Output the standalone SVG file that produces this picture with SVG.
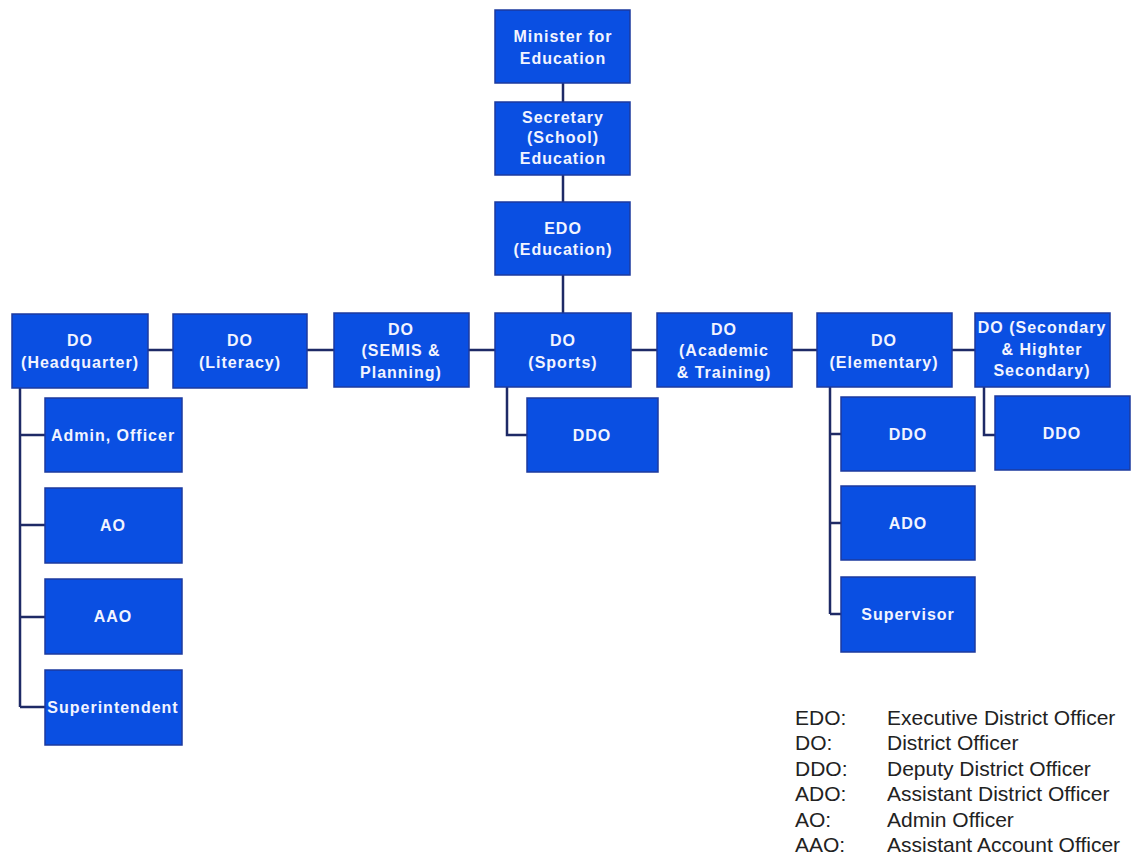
<svg xmlns="http://www.w3.org/2000/svg" width="1145" height="858" viewBox="0 0 1145 858">
<style>
.box{fill:#0a4fe2;stroke:#1c3a9e;stroke-width:1.5}
.t{font-family:"Liberation Sans",Arial,sans-serif;font-weight:bold;font-size:16px;fill:#f2f4ff;text-anchor:middle;letter-spacing:1px}
.c{fill:none;stroke:#1e2a66;stroke-width:2.5}
.lg{font-family:"Liberation Sans",Arial,sans-serif;font-size:21px;fill:#222}
</style>
<rect width="1145" height="858" fill="#ffffff"/>
<g id="connectors">
<path class="c" d="M563 83V102M563 175V202M563 275V313"/>
<path class="c" d="M148 350H173M307 350H334M469 350H495M631 350H657M792 350H817M952 350H975"/>
<path class="c" d="M20 388V707M20 435H45M20 525H45M20 617H45M20 707H45"/>
<path class="c" d="M507 387V435H527"/>
<path class="c" d="M830 387V614M830 434H841M830 523H841M830 614H841"/>
<path class="c" d="M984 387V435H995"/>
</g>
<g id="minister"><rect class="box" x="495" y="10" width="135" height="73"/><text class="t" x="563" y="42">Minister for</text><text class="t" x="563" y="64">Education</text></g>
<g id="secretary"><rect class="box" x="495" y="102" width="135" height="73"/><text class="t" x="563" y="123">Secretary</text><text class="t" x="563" y="143">(School)</text><text class="t" x="563" y="164">Education</text></g>
<g id="edo"><rect class="box" x="495" y="202" width="135" height="73"/><text class="t" x="563" y="234">EDO</text><text class="t" x="563" y="255">(Education)</text></g>
<g id="do-hq"><rect class="box" x="12" y="314" width="136" height="74"/><text class="t" x="80" y="346">DO</text><text class="t" x="80" y="368">(Headquarter)</text></g>
<g id="do-literacy"><rect class="box" x="173" y="314" width="134" height="74"/><text class="t" x="240" y="346">DO</text><text class="t" x="240" y="368">(Literacy)</text></g>
<g id="do-semis"><rect class="box" x="334" y="313" width="135" height="74"/><text class="t" x="401" y="335">DO</text><text class="t" x="401" y="356">(SEMIS &amp;</text><text class="t" x="401" y="378">Planning)</text></g>
<g id="do-sports"><rect class="box" x="495" y="313" width="136" height="74"/><text class="t" x="563" y="346">DO</text><text class="t" x="563" y="368">(Sports)</text></g>
<g id="do-academic"><rect class="box" x="657" y="313" width="135" height="74"/><text class="t" x="724" y="335">DO</text><text class="t" x="724" y="356">(Academic</text><text class="t" x="724" y="378">&amp; Training)</text></g>
<g id="do-elementary"><rect class="box" x="817" y="313" width="135" height="74"/><text class="t" x="884" y="346">DO</text><text class="t" x="884" y="368">(Elementary)</text></g>
<g id="do-secondary"><rect class="box" x="975" y="313" width="135" height="74"/><text class="t" x="1042" y="333">DO (Secondary</text><text class="t" x="1042" y="355">&amp; Highter</text><text class="t" x="1042" y="376">Secondary)</text></g>
<g id="admin-officer"><rect class="box" x="45" y="398" width="137" height="74"/><text class="t" x="113" y="441">Admin, Officer</text></g>
<g id="ao"><rect class="box" x="45" y="488" width="137" height="75"/><text class="t" x="113" y="531">AO</text></g>
<g id="aao"><rect class="box" x="45" y="579" width="137" height="75"/><text class="t" x="113" y="622">AAO</text></g>
<g id="superintendent"><rect class="box" x="45" y="670" width="137" height="75"/><text class="t" x="113" y="713">Superintendent</text></g>
<g id="ddo-sports"><rect class="box" x="527" y="398" width="131" height="74"/><text class="t" x="592" y="441">DDO</text></g>
<g id="ddo-elementary"><rect class="box" x="841" y="397" width="134" height="74"/><text class="t" x="908" y="440">DDO</text></g>
<g id="ado"><rect class="box" x="841" y="486" width="134" height="74"/><text class="t" x="908" y="529">ADO</text></g>
<g id="supervisor"><rect class="box" x="841" y="577" width="134" height="75"/><text class="t" x="908" y="620">Supervisor</text></g>
<g id="ddo-secondary"><rect class="box" x="995" y="396" width="135" height="74"/><text class="t" x="1062" y="439">DDO</text></g>
<g id="legend">
<text class="lg" x="795" y="725">EDO:</text><text class="lg" x="887" y="725">Executive District Officer</text>
<text class="lg" x="795" y="750">DO:</text><text class="lg" x="887" y="750">District Officer</text>
<text class="lg" x="795" y="776">DDO:</text><text class="lg" x="887" y="776">Deputy District Officer</text>
<text class="lg" x="795" y="801">ADO:</text><text class="lg" x="887" y="801">Assistant District Officer</text>
<text class="lg" x="795" y="827">AO:</text><text class="lg" x="887" y="827">Admin Officer</text>
<text class="lg" x="795" y="852">AAO:</text><text class="lg" x="887" y="852">Assistant Account Officer</text>
</g>
</svg>
